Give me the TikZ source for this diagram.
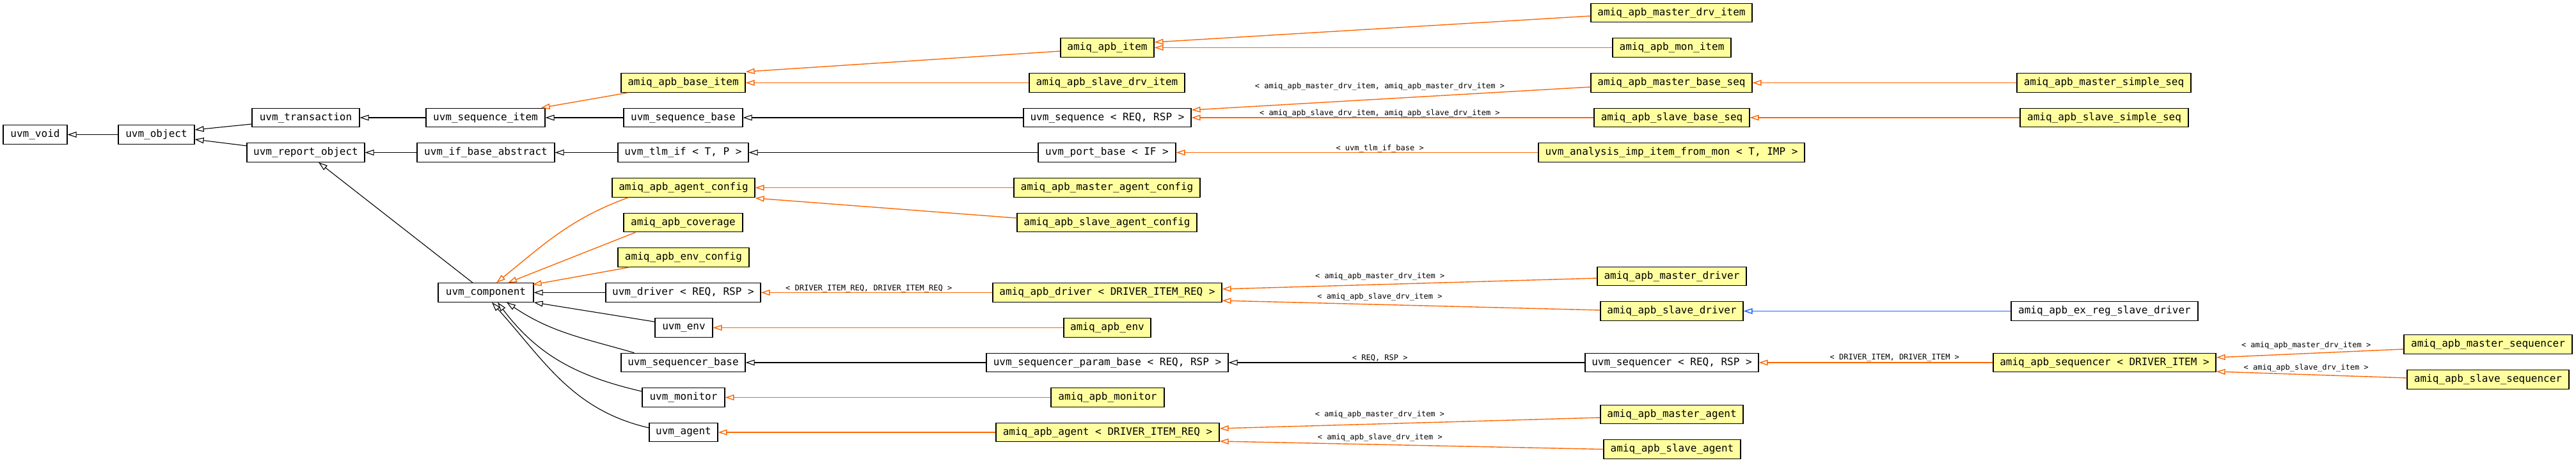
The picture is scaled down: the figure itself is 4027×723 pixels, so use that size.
\documentclass[tikz,border=0pt]{standalone}
\usepackage{fontspec}
\newfontfamily\dmono{DejaVu Sans Mono}
\usetikzlibrary{arrows.meta}
\definecolor{tmplorange}{RGB}{255,102,0}
\definecolor{clsyellow}{RGB}{255,255,160}
\definecolor{linkblue}{RGB}{30,100,255}
\begin{document}
\begin{tikzpicture}[x=0.5pt,y=-0.5pt,
  cls/.style={draw=black, line width=0.6pt, fill=white, inner sep=0pt, minimum height=14.75pt, font=\dmono\fontsize{8}{9}\selectfont},
  tcls/.style={cls, fill=clsyellow},
  inh/.style={draw=black, line width=0.55pt, -{Triangle[open,length=7pt,width=4.5pt]}},
  tinh/.style={inh, draw=tmplorange, line width=0.7pt},
  binh/.style={inh, draw=linkblue, line width=0.7pt},
  lbl/.style={font=\dmono\fontsize{6}{7}\selectfont, inner sep=0pt}]
\useasboundingbox (0,0) rectangle (4027,723);
% nodes
\node[cls, minimum width=50pt] (void) at (55,210.5) {uvm\_void};
\node[cls, minimum width=59.5pt] (object) at (244.5,210.5) {uvm\_object};
\node[cls, minimum width=84pt] (transaction) at (478,184) {uvm\_transaction};
\node[cls, minimum width=92pt] (reportobj) at (478,238.5) {uvm\_report\_object};
\node[cls, minimum width=93pt] (seqitem) at (759,184) {uvm\_sequence\_item};
\node[cls, minimum width=107.5pt] (ifbase) at (759.5,238.5) {uvm\_if\_base\_abstract};
\node[tcls, minimum width=97pt] (baseitem) at (1068,129.5) {amiq\_apb\_base\_item};
\node[cls, minimum width=93pt] (seqbase) at (1068,184) {uvm\_sequence\_base};
\node[cls, minimum width=102pt] (tlmif) at (1068,238.5) {uvm\_tlm\_if < T, P >};
\node[tcls, minimum width=73pt] (apbitem) at (1731,74.5) {amiq\_apb\_item};
\node[tcls, minimum width=121.5pt] (slavedrvitem) at (1730.5,129.5) {amiq\_apb\_slave\_drv\_item};
\node[cls, minimum width=131pt] (sequence) at (1731,184) {uvm\_sequence < REQ, RSP >};
\node[cls, minimum width=107.5pt] (portbase) at (1730.5,238.5) {uvm\_port\_base < IF >};
\node[tcls, minimum width=126pt] (masterdrvitem) at (2613,20) {amiq\_apb\_master\_drv\_item};
\node[tcls, minimum width=92.5pt] (monitem) at (2613.5,74.5) {amiq\_apb\_mon\_item};
\node[tcls, minimum width=126pt] (masterbaseseq) at (2613,129.5) {amiq\_apb\_master\_base\_seq};
\node[tcls, minimum width=121.5pt] (slavebaseseq) at (2613.5,184) {amiq\_apb\_slave\_base\_seq};
\node[tcls, minimum width=208pt] (analysisimp) at (2613,238.5) {uvm\_analysis\_imp\_item\_from\_mon < T, IMP >};
\node[tcls, minimum width=136pt] (mastersimpleseq) at (3289,129.5) {amiq\_apb\_master\_simple\_seq};
\node[tcls, minimum width=131.5pt] (slavesimpleseq) at (3289.5,184) {amiq\_apb\_slave\_simple\_seq};
\node[tcls, minimum width=111.5pt] (agentconfig) at (1068.5,293.5) {amiq\_apb\_agent\_config};
\node[tcls, minimum width=93pt] (coverage) at (1068,348) {amiq\_apb\_coverage};
\node[tcls, minimum width=102.5pt] (envconfig) at (1068.5,402.5) {amiq\_apb\_env\_config};
\node[tcls, minimum width=145.5pt] (masteragentconfig) at (1730.5,293.5) {amiq\_apb\_master\_agent\_config};
\node[tcls, minimum width=140.5pt] (slaveagentconfig) at (1730.5,348) {amiq\_apb\_slave\_agent\_config};
\node[cls, minimum width=74.5pt] (component) at (759.5,457.5) {uvm\_component};
\node[cls, minimum width=121pt] (driver) at (1068,457.5) {uvm\_driver < REQ, RSP >};
\node[tcls, minimum width=179pt] (apbdriver) at (1731,457.5) {amiq\_apb\_driver < DRIVER\_ITEM\_REQ >};
\node[tcls, minimum width=116.5pt] (masterdriver) at (2613.5,432) {amiq\_apb\_master\_driver};
\node[tcls, minimum width=111.5pt] (slavedriver) at (2613.5,486.5) {amiq\_apb\_slave\_driver};
\node[cls, minimum width=146pt] (exregslavedriver) at (3290,486.5) {amiq\_apb\_ex\_reg\_slave\_driver};
\node[cls, minimum width=45pt] (env) at (1069,512.5) {uvm\_env};
\node[tcls, minimum width=68pt] (apbenv) at (1731,512.5) {amiq\_apb\_env};
\node[cls, minimum width=97pt] (seqrbase) at (1068,567) {uvm\_sequencer\_base};
\node[cls, minimum width=189pt] (seqrparambase) at (1731,567) {uvm\_sequencer\_param\_base < REQ, RSP >};
\node[cls, minimum width=135.5pt] (sequencer) at (2613.5,567) {uvm\_sequencer < REQ, RSP >};
\node[tcls, minimum width=174pt] (apbsequencer) at (3290,567) {amiq\_apb\_sequencer < DRIVER\_ITEM >};
\node[tcls, minimum width=131.5pt] (mastersequencer) at (3889.5,538.5) {amiq\_apb\_master\_sequencer};
\node[tcls, minimum width=126.5pt] (slavesequencer) at (3889.5,593.5) {amiq\_apb\_slave\_sequencer};
\node[cls, minimum width=64.5pt] (monitor) at (1068.5,621.5) {uvm\_monitor};
\node[tcls, minimum width=88.5pt] (apbmonitor) at (1731.5,621.5) {amiq\_apb\_monitor};
\node[cls, minimum width=53.5pt] (agent) at (1068.5,676) {uvm\_agent};
\node[tcls, minimum width=174.5pt] (apbagent) at (1731.5,676) {amiq\_apb\_agent < DRIVER\_ITEM\_REQ >};
\node[tcls, minimum width=111.5pt] (masteragent) at (2613.5,648) {amiq\_apb\_master\_agent};
\node[tcls, minimum width=107pt] (slaveagent) at (2614,702.5) {amiq\_apb\_slave\_agent};
% edges
\draw[inh] (object.west) -- (void.east);
\draw[inh] ([yshift=-5pt]transaction.west) -- ([yshift=3.75pt]object.east);
\draw[inh] ([yshift=5.25pt]reportobj.west) -- ([yshift=-3.75pt]object.east);
\draw[inh] (seqitem.west) -- (transaction.east);
\draw[inh] (ifbase.west) -- (reportobj.east);
\draw[inh] ([xshift=-10.25pt]component.north) -- ([xshift=10pt]reportobj.south);
\draw[inh] (seqbase.west) -- (seqitem.east);
\draw[tinh] ([xshift=6pt]baseitem.south west) -- ([xshift=-3.5pt]seqitem.north east);
\draw[inh] (tlmif.west) -- (ifbase.east);
\draw[tinh] ([yshift=-2.75pt]apbitem.west) -- ([yshift=1pt]baseitem.north east);
\draw[tinh] (slavedrvitem.west) -- (baseitem.east);
\draw[inh] (sequence.west) -- (seqbase.east);
\draw[inh] (portbase.west) -- (tlmif.east);
\draw[tinh] ([yshift=-2.5pt]masterdrvitem.west) -- ([yshift=4.25pt]apbitem.east);
\draw[tinh] (monitem.west) -- (apbitem.east);
\draw[tinh] ([yshift=-3.25pt]masterbaseseq.west) -- node[lbl, pos=0.528, yshift=9.75pt] {< amiq\_apb\_master\_drv\_item, amiq\_apb\_master\_drv\_item >} ([yshift=6pt]sequence.east);
\draw[tinh] (slavebaseseq.west) -- node[lbl, pos=0.532, yshift=3.5pt] {< amiq\_apb\_slave\_drv\_item, amiq\_apb\_slave\_drv\_item >} (sequence.east);
\draw[tinh] (analysisimp.west) -- node[lbl, pos=0.437, yshift=3.25pt] {< uvm\_tlm\_if\_base >} (portbase.east);
\draw[tinh] (mastersimpleseq.west) -- (masterbaseseq.east);
\draw[tinh] (slavesimpleseq.west) -- (slavebaseseq.east);
\draw[tinh] ([xshift=13pt]agentconfig.south west) to[out=200, in=39] ([xshift=8.25pt]component.north);
\draw[tinh] ([xshift=9.5pt]coverage.south west) -- ([xshift=17.25pt]component.north);
\draw[tinh] ([xshift=9.5pt]envconfig.south west) -- ([xshift=-1pt,yshift=-1.5pt]component.north east);
\draw[inh] (driver.west) -- (component.east);
\draw[inh] ([yshift=-3pt]env.north west) -- (component.south east);
\draw[inh] ([xshift=10.5pt]seqrbase.north west) to[out=164, in=-34] ([xshift=16.25pt]component.south);
\draw[inh] ([yshift=4.75pt]monitor.west) to[out=167, in=-53] ([xshift=9.25pt]component.south);
\draw[inh] ([yshift=3.5pt]agent.west) to[out=167, in=-48] ([xshift=4.75pt]component.south);
\draw[tinh] (masteragentconfig.west) -- (agentconfig.east);
\draw[tinh] ([yshift=3.5pt]slaveagentconfig.west) -- ([yshift=-0.5pt]agentconfig.south east);
\draw[tinh] (apbdriver.west) -- node[lbl, pos=0.534, yshift=3.25pt] {< DRIVER\_ITEM\_REQ, DRIVER\_ITEM\_REQ >} (driver.east);
\draw[tinh] (apbenv.west) -- (env.east);
\draw[inh] (seqrparambase.west) -- (seqrbase.east);
\draw[tinh] (apbmonitor.west) -- (monitor.east);
\draw[tinh] (apbagent.west) -- (agent.east);
\draw[tinh] ([yshift=-1.5pt]masterdriver.west) -- node[lbl, pos=0.579, yshift=6pt] {< amiq\_apb\_master\_drv\_item >} ([yshift=2.75pt]apbdriver.east);
\draw[tinh] ([yshift=0.75pt]slavedriver.west) -- node[lbl, pos=0.583, yshift=6pt] {< amiq\_apb\_slave\_drv\_item >} ([yshift=-6.25pt]apbdriver.east);
\draw[binh] (exregslavedriver.west) -- (slavedriver.east);
\draw[inh] (sequencer.west) -- node[lbl, pos=0.575, yshift=3.5pt] {< REQ, RSP >} (seqrparambase.east);
\draw[tinh] (apbsequencer.west) -- node[lbl, pos=0.42, yshift=3.5pt] {< DRIVER\_ITEM, DRIVER\_ITEM >} (sequencer.east);
\draw[tinh] ([yshift=-3.75pt]mastersequencer.west) -- node[lbl, pos=0.52, yshift=6.4pt] {< amiq\_apb\_master\_drv\_item >} ([yshift=4pt]apbsequencer.east);
\draw[tinh] ([yshift=1.25pt]slavesequencer.west) -- node[lbl, pos=0.528, yshift=5.35pt] {< amiq\_apb\_slave\_drv\_item >} ([yshift=-7pt]apbsequencer.east);
\draw[tinh] ([yshift=-2.5pt]masteragent.west) -- node[lbl, pos=0.579, yshift=7.4pt] {< amiq\_apb\_master\_drv\_item >} ([yshift=3pt]apbagent.east);
\draw[tinh] (slaveagent.west) -- node[lbl, pos=0.582, yshift=5.5pt] {< amiq\_apb\_slave\_drv\_item >} ([yshift=-7pt]apbagent.east);
\end{tikzpicture}
\end{document}
